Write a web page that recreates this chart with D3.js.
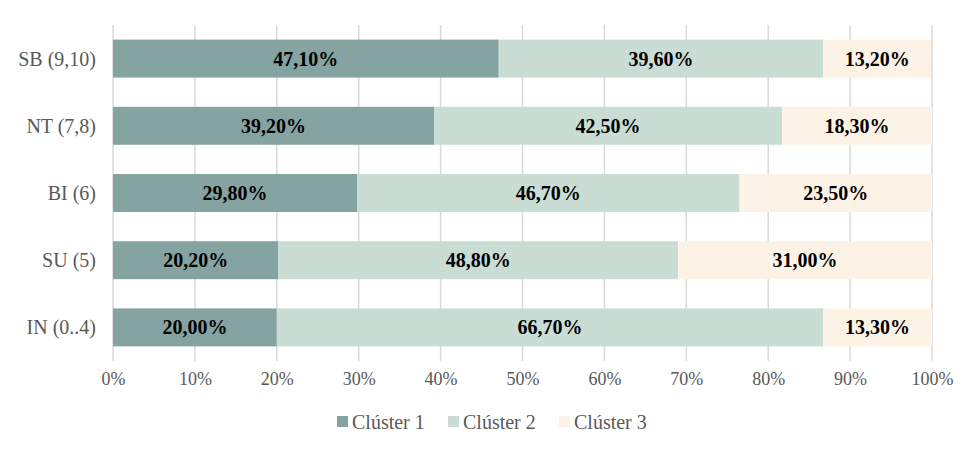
<!DOCTYPE html>
<html><head><meta charset="utf-8">
<script src="https://cdn.jsdelivr.net/npm/d3@7"></script>
<style>body{margin:0;background:#fff}svg text{font-family:'Liberation Serif',serif}</style>
</head><body><svg id="c" width="979" height="454"></svg>
<script>
const categories = ["SB (9,10)", "NT (7,8)", "BI (6)", "SU (5)", "IN (0..4)"];
const seriesNames = ["Clúster 1", "Clúster 2", "Clúster 3"];
const cluster1 = [47.1, 39.2, 29.8, 20.2, 20.0];
const cluster2 = [39.6, 42.5, 46.7, 48.8, 66.7];
const cluster3 = [13.2, 18.3, 23.5, 31.0, 13.3];
const xTicks = [0,10,20,30,40,50,60,70,80,90,100];
const colors = ["#84a3a1", "#c9ddd5", "#fdf2e6"];
const FONT = "Liberation Serif";

const svg = d3.select("#c");
const m = {l:113, r:47, t:25, b:93};
const W = 979, H = 454;
const x = d3.scaleLinear().domain([0,100]).range([m.l, W-m.r]);
const y = d3.scaleBand().domain(categories).range([m.t, H-m.b]).paddingInner(0.435).paddingOuter(0.2175);

svg.append("g").selectAll("line").data(xTicks).join("line")
  .attr("x1", d=>x(d)).attr("x2", d=>x(d))
  .attr("y1", m.t).attr("y2", H-m.b)
  .attr("stroke", "#d9d9d9").attr("stroke-width", 1.5);

const data = categories.map((c,i)=>({cat:c, v:[cluster1[i], cluster2[i], cluster3[i]]}));
const stack = d3.stack().keys([0,1,2]).value((d,k)=>d.v[k]);
const series = stack(data);

const g = svg.append("g");
series.forEach((s,k)=>{
  g.selectAll(null).data(s).join("rect")
    .attr("x", d=>x(d[0])).attr("width", d=>x(d[1])-x(d[0]))
    .attr("y", d=>y(d.data.cat)).attr("height", y.bandwidth())
    .attr("fill", colors[k]);
  g.selectAll(null).data(s).join("text")
    .attr("x", d=>(x(d[0])+x(d[1]))/2)
    .attr("y", d=>y(d.data.cat)+y.bandwidth()/2)
    .attr("dy", "0.35em").attr("text-anchor","middle")
    .attr("font-family", FONT)
    .attr("font-weight","bold").attr("font-size", 20).attr("fill","#000")
    .text(d=>d.data.v[k].toFixed(2).replace(".", ",") + "%");
});

svg.append("g").selectAll("text").data(categories).join("text")
  .attr("x", m.l-17).attr("y", d=>y(d)+y.bandwidth()/2).attr("dy","0.35em")
  .attr("font-family", FONT)
  .attr("text-anchor","end").attr("font-size", 20).attr("fill","#595959").text(d=>d);

const xa = d3.axisBottom(x).tickValues(xTicks).tickFormat(d=>d+"%").tickSize(0).tickPadding(11);
const ax = svg.append("g").attr("transform",`translate(0,${H-m.b})`).call(xa);
ax.attr("font-family", FONT);
ax.select(".domain").remove();
ax.selectAll("text").attr("font-size",18).attr("fill","#595959").attr("font-family", FONT);

const legX = [337, 448, 559];
const lg = svg.append("g");
seriesNames.forEach((n,i)=>{
  lg.append("rect").attr("x", legX[i]).attr("y", 416).attr("width", 11).attr("height", 11).attr("fill", colors[i]);
  lg.append("text").attr("x", legX[i]+15).attr("y", 422).attr("dy","0.35em")
    .attr("font-family", FONT)
    .attr("font-size",20).attr("fill","#595959").text(n);
});
</script></body></html>
